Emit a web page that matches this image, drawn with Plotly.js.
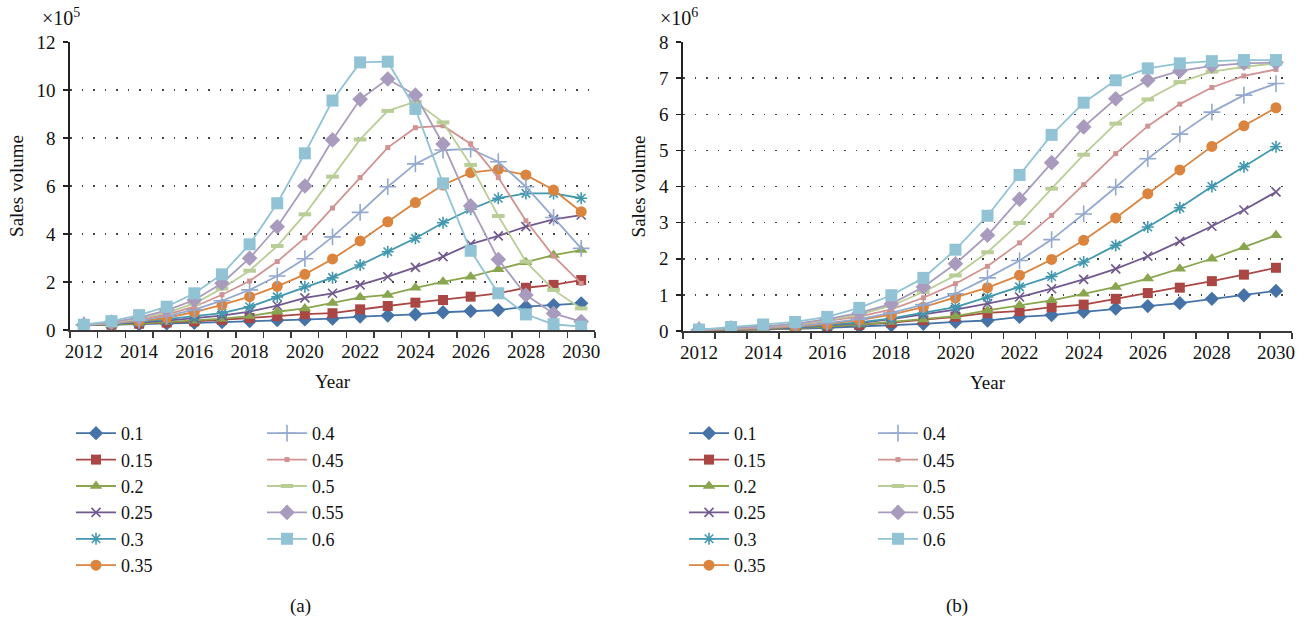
<!DOCTYPE html>
<html>
<head>
<meta charset="utf-8">
<script src="https://cdn.plot.ly/plotly-3.0.1.min.js"></script>
<style>html,body{margin:0;padding:0;background:#fff;}#chart{width:1305px;height:623px;}</style>
</head>
<body>
<div id="chart"></div>
<script>
// ---- data ----
const years = [2012,2013,2014,2015,2016,2017,2018,2019,2020,2021,2022,2023,2024,2025,2026,2027,2028,2029,2030];
const seriesNames = ["0.1","0.15","0.2","0.25","0.3","0.35","0.4","0.45","0.5","0.55","0.6"];
const xTickYears = [2012,2014,2016,2018,2020,2022,2024,2026,2028,2030];

// (a) annual sales volume, x10^5
const a10 = [0.19,0.21,0.24,0.27,0.30,0.33,0.37,0.41,0.44,0.47,0.56,0.60,0.65,0.74,0.79,0.83,0.97,1.04,1.11];
const a15 = [0.19,0.22,0.26,0.31,0.36,0.42,0.50,0.58,0.66,0.70,0.86,1.00,1.14,1.25,1.39,1.53,1.76,1.88,2.08];
const a20 = [0.19,0.22,0.27,0.33,0.39,0.47,0.58,0.76,0.90,1.12,1.36,1.46,1.76,2.01,2.22,2.53,2.82,3.12,3.33];
const a25 = [0.20,0.25,0.31,0.39,0.48,0.60,0.77,1.02,1.34,1.53,1.88,2.22,2.61,3.06,3.58,3.92,4.31,4.61,4.79];
const a30 = [0.20,0.26,0.34,0.45,0.56,0.70,0.97,1.38,1.80,2.18,2.71,3.26,3.82,4.47,5.03,5.49,5.69,5.69,5.49];
const a35 = [0.20,0.27,0.37,0.51,0.75,1.05,1.39,1.82,2.32,2.96,3.71,4.51,5.31,6.04,6.56,6.69,6.46,5.83,4.93];
const a40 = [0.21,0.28,0.40,0.58,0.85,1.22,1.67,2.25,2.97,3.88,4.90,5.97,6.92,7.50,7.54,7.01,5.97,4.69,3.40];
const a45 = [0.21,0.29,0.43,0.64,0.97,1.47,2.04,2.85,3.84,5.08,6.35,7.60,8.43,8.51,7.75,6.35,4.55,3.08,1.94];
const a50 = [0.21,0.31,0.47,0.72,1.10,1.73,2.47,3.50,4.82,6.39,7.94,9.13,9.51,8.65,6.88,4.75,2.85,1.67,0.90];
const a55 = [0.22,0.33,0.52,0.82,1.25,1.95,2.99,4.30,6.00,7.92,9.61,10.46,9.79,7.75,5.17,2.94,1.46,0.69,0.35];
const a60 = [0.22,0.37,0.62,0.97,1.53,2.32,3.57,5.28,7.36,9.56,11.15,11.18,9.21,6.11,3.30,1.53,0.65,0.24,0.14];

// (b) cumulative sales volume, x10^6
const b10 = [0.02,0.03,0.04,0.06,0.09,0.12,0.16,0.20,0.25,0.29,0.39,0.44,0.53,0.62,0.69,0.77,0.89,0.99,1.11];
const b15 = [0.02,0.03,0.05,0.08,0.12,0.17,0.23,0.30,0.39,0.50,0.55,0.66,0.73,0.89,1.05,1.20,1.38,1.56,1.75];
const b20 = [0.01,0.02,0.04,0.07,0.12,0.18,0.25,0.32,0.41,0.57,0.71,0.85,1.03,1.22,1.45,1.72,2.00,2.32,2.65];
const b25 = [0.02,0.03,0.05,0.09,0.15,0.22,0.33,0.45,0.59,0.76,0.94,1.17,1.43,1.72,2.07,2.48,2.90,3.35,3.85];
const b30 = [0.02,0.04,0.06,0.10,0.16,0.24,0.35,0.50,0.66,0.94,1.22,1.51,1.91,2.37,2.88,3.41,4.00,4.55,5.10];
const b35 = [0.02,0.04,0.07,0.12,0.19,0.30,0.45,0.66,0.92,1.20,1.54,1.98,2.51,3.13,3.80,4.46,5.11,5.68,6.18];
const b40 = [0.03,0.05,0.09,0.14,0.22,0.33,0.50,0.73,1.03,1.47,1.95,2.53,3.24,3.98,4.77,5.45,6.06,6.53,6.85];
const b45 = [0.03,0.06,0.10,0.16,0.27,0.40,0.60,0.92,1.31,1.79,2.44,3.20,4.05,4.91,5.67,6.28,6.74,7.06,7.24];
const b50 = [0.03,0.07,0.12,0.18,0.30,0.45,0.70,1.08,1.54,2.18,2.99,3.94,4.88,5.74,6.41,6.89,7.18,7.31,7.41];
const b55 = [0.04,0.08,0.13,0.20,0.33,0.50,0.75,1.22,1.86,2.65,3.65,4.66,5.65,6.43,6.94,7.20,7.34,7.41,7.43];
const b60 = [0.04,0.11,0.18,0.25,0.39,0.64,0.99,1.47,2.25,3.19,4.32,5.43,6.32,6.94,7.27,7.41,7.47,7.50,7.50];

const seriesA = [a10,a15,a20,a25,a30,a35,a40,a45,a50,a55,a60];
const seriesB = [b10,b15,b20,b25,b30,b35,b40,b45,b50,b55,b60];

// ---- styles ----
const colors = ["#4572A7","#AA4643","#89A54E","#71588F","#4198AF","#DB843D","#93A9CF","#D19392","#B9CD96","#A99BBD","#91C3D5"];
const symbols = ["diamond","square","triangle-up","x-thin-open","asterisk-open","circle","cross-thin-open","square","line-ew-open","diamond","square"];
const sizes = [11,10,11,9,10,11,12,5,9,12,12];
const lineMarkers = [false,false,false,true,true,false,true,false,true,false,false];
const lineMarkerWidth = [0,0,0,1.6,1.6,0,1.6,0,4,0,0];

const FONT = "Liberation Serif, Times New Roman, serif";
const TXT = "#111";
const traces = [];
function addSet(data, xa, ya, legA, legB){
  data.forEach((vals,i)=>{
    const c = colors[i];
    traces.push({
      type:"scatter", mode:"lines+markers",
      x: years, y: vals, xaxis: xa, yaxis: ya,
      name: seriesNames[i],
      legend: i < 6 ? legA : legB,
      line:{color:c, width:1.8},
      marker:{symbol:symbols[i], size:sizes[i], color:c,
              line:{color:c, width: lineMarkers[i] ? lineMarkerWidth[i] : 0}},
      hoverinfo:"skip"
    });
  });
}
addSet(seriesA, "x", "y", "legend", "legend2");
addSet(seriesB, "x2", "y2", "legend3", "legend4");

const W = 1305, H = 623;
const px = v => v / W;
const py = v => 1 - v / H;

const minorVals = [];
for (let k = 0; k <= years.length; k++) minorVals.push(years[0] - 0.5 + k);

function xAxis(domain, anchor){
  return {
    domain: domain, anchor: anchor,
    range: [years[0]-0.5, years[years.length-1]+0.5],
    tickmode: "array", tickvals: xTickYears, ticktext: xTickYears.map(String),
    ticks: "", showgrid: false, zeroline: false,
    showline: true, linecolor: "#3a3a3a", linewidth: 2,
    ticklabelstandoff: 3,
    tickfont: {family: FONT, size: 19, color: TXT},
    minor: {tickmode: "array", tickvals: minorVals, ticks: "outside", ticklen: 6, tickwidth: 1.5, tickcolor: "#3a3a3a", showgrid: false},
    title: {text: "Year", font: {family: FONT, size: 19, color: TXT}, standoff: 14},
    fixedrange: true
  };
}
function yAxis(domain, anchor, max, dtick){
  return {
    domain: domain, anchor: anchor,
    range: [0, max], dtick: dtick, tick0: 0,
    showline: true, linecolor: "#222", linewidth: 1.6,
    ticks: "outside", ticklen: 5, tickwidth: 1.5, tickcolor: "#222",
    ticklabelstandoff: 4,
    showgrid: true, gridcolor: "#444", gridwidth: 1.5, griddash: "1.5px,10px",
    zeroline: false,
    tickfont: {family: FONT, size: 19, color: TXT},
    title: {text: "Sales volume", font: {family: FONT, size: 19, color: TXT}, standoff: 8},
    fixedrange: true
  };
}

function legendAt(xPix){
  return {
    x: px(xPix), y: py(415), xanchor: "left", yanchor: "top",
    orientation: "v", bgcolor: "rgba(0,0,0,0)", borderwidth: 0,
    font: {family: FONT, size: 18, color: TXT},
    itemwidth: 40, traceorder: "normal", tracegroupgap: 0
  };
}

const layout = {
  width: W, height: H,
  margin: {l:0, r:0, t:0, b:0},
  paper_bgcolor: "#fff", plot_bgcolor: "rgba(0,0,0,0)",
  font: {family: FONT, size: 19, color: TXT},
  showlegend: true,
  xaxis: xAxis([px(70), px(595)], "y"),
  yaxis: yAxis([py(330), py(42)], "x", 12, 2),
  xaxis2: xAxis([px(683), px(1292)], "y2"),
  yaxis2: yAxis([py(331), py(42)], "x2", 8, 1),
  legend: legendAt(71),
  legend2: legendAt(262),
  legend3: legendAt(684),
  legend4: legendAt(873),
  annotations: [
    {text: "×10<sup>5</sup>", xref: "paper", yref: "paper", x: px(40), y: py(17), xanchor: "left", yanchor: "middle", showarrow: false, font: {family: FONT, size: 20, color: TXT}},
    {text: "×10<sup>6</sup>", xref: "paper", yref: "paper", x: px(658), y: py(17), xanchor: "left", yanchor: "middle", showarrow: false, font: {family: FONT, size: 20, color: TXT}},
    {text: "(a)", xref: "paper", yref: "paper", x: px(300), y: py(606), xanchor: "center", yanchor: "middle", showarrow: false, font: {family: FONT, size: 19, color: TXT}},
    {text: "(b)", xref: "paper", yref: "paper", x: px(957), y: py(606), xanchor: "center", yanchor: "middle", showarrow: false, font: {family: FONT, size: 19, color: TXT}}
  ]
};

Plotly.newPlot("chart", traces, layout, {displayModeBar: false, staticPlot: true});
</script>
</body>
</html>
